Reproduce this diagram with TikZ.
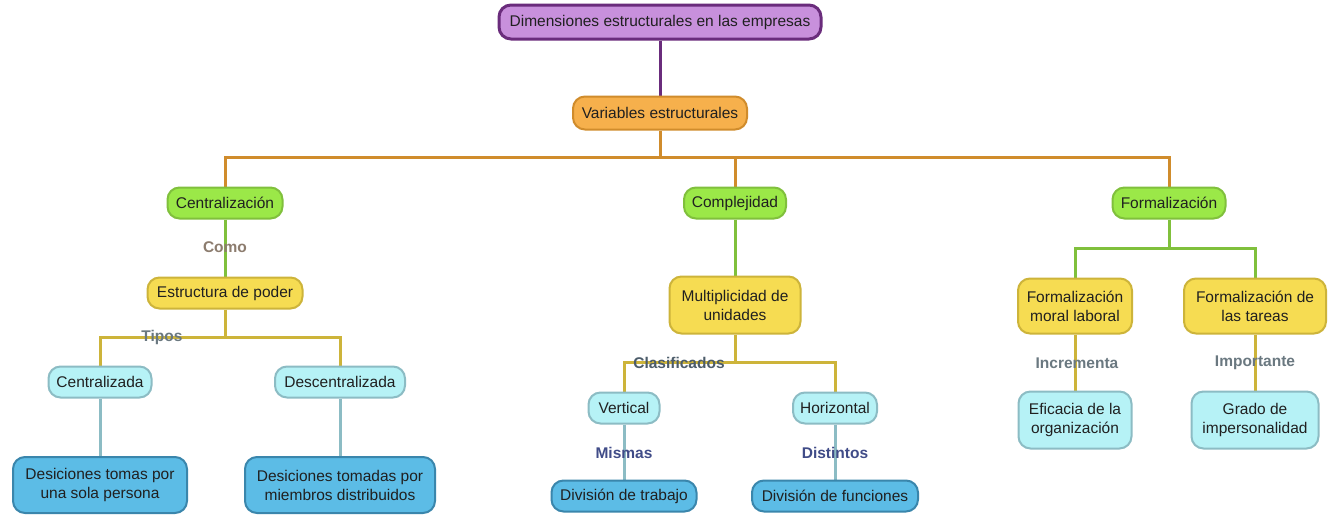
\documentclass[tikz,border=0pt]{standalone}
\usepackage{fontspec}
\setmainfont{Liberation Sans}
\usetikzlibrary{backgrounds}
\definecolor{purF}{HTML}{C890DC}
\definecolor{purD}{HTML}{6A2C7C}
\definecolor{oraF}{HTML}{F6B04C}
\definecolor{oraD}{HTML}{D08C2C}
\definecolor{grnF}{HTML}{9BE848}
\definecolor{grnD}{HTML}{80C03C}
\definecolor{yelF}{HTML}{F6DC52}
\definecolor{yelD}{HTML}{CDB43A}
\definecolor{cyaF}{HTML}{B6F2F6}
\definecolor{cyaD}{HTML}{8CBCC4}
\definecolor{bluF}{HTML}{5CBCE6}
\definecolor{bluD}{HTML}{3A86AC}
\definecolor{txt}{HTML}{202020}
\definecolor{lbComo}{HTML}{8C7C6E}
\definecolor{lbGray}{HTML}{6A7880}
\definecolor{lbDark}{HTML}{4C5C6A}
\definecolor{lbBlue}{HTML}{404C88}
\tikzset{
  box/.style={rounded corners=12pt, draw, line width=2pt, align=center,
    inner xsep=6pt, inner ysep=2pt, text=txt,
    font=\fontsize{15.5}{19}\selectfont},
  pbox/.style={box, fill=purF, draw=purD, line width=3pt},
  obox/.style={box, fill=oraF, draw=oraD},
  gbox/.style={box, fill=grnF, draw=grnD},
  ybox/.style={box, fill=yelF, draw=yelD},
  cbox/.style={box, fill=cyaF, draw=cyaD},
  bbox/.style={box, fill=bluF, draw=bluD},
  conn/.style={line width=3pt},
  lbl/.style={font=\fontsize{15.5}{17}\selectfont\bfseries, inner sep=1pt},
}
\begin{document}
\begin{tikzpicture}[x=1pt,y=-1pt]
\useasboundingbox (0,0) rectangle (1342,523);
% nodes
\node[pbox, minimum width=322, minimum height=34] (dim) at (660,22) {Dimensiones estructurales en las empresas};
\node[obox, minimum width=174, minimum height=33] (var) at (660,113) {Variables estructurales};
\node[gbox, minimum width=115, minimum height=31] (cent) at (225,203) {Centralización};
\node[gbox, minimum width=102, minimum height=31] (comp) at (735,203) {Complejidad};
\node[gbox, minimum width=113, minimum height=31] (form) at (1169,203) {Formalización};
\node[ybox, minimum width=155, minimum height=31] (estr) at (225,293) {Estructura de poder};
\node[ybox, minimum width=131, minimum height=57] (mult) at (735,305) {Multiplicidad de\\unidades};
\node[ybox, minimum width=114, minimum height=55] (fml) at (1075,306) {Formalización\\moral laboral};
\node[ybox, minimum width=142, minimum height=55] (fta) at (1255,306) {Formalización de\\las tareas};
\node[cbox, minimum width=103, minimum height=31] (czd) at (100,382) {Centralizada};
\node[cbox, minimum width=130, minimum height=31] (dczd) at (340,382) {Descentralizada};
\node[cbox, minimum width=71, minimum height=31] (vert) at (624,408) {Vertical};
\node[cbox, minimum width=84, minimum height=31] (horz) at (835,408) {Horizontal};
\node[bbox, minimum width=174, minimum height=56] (d1) at (100,485) {Desiciones tomas por\\una sola persona};
\node[bbox, minimum width=190, minimum height=56] (d2) at (340,485) {Desiciones tomadas por\\miembros distribuidos};
\node[bbox, minimum width=145, minimum height=31] (divt) at (624,496) {División de trabajo};
\node[bbox, minimum width=166, minimum height=31] (divf) at (835,496) {División de funciones};
\node[cbox, minimum width=113, minimum height=57] (efi) at (1075,420) {Eficacia de la\\organización};
\node[cbox, minimum width=127, minimum height=57] (gra) at (1255,420) {Grado de\\impersonalidad};
% connectors
\coordinate (b1) at (660,157);
\coordinate (b2) at (225,337);
\coordinate (b3) at (735,362);
\coordinate (b4) at (1169,248);
\begin{scope}[on background layer]
\fill[white] (0,0) rectangle (1342,523);
\draw[conn, purD] (dim) -- (var);
\draw[conn, oraD] (var.south) -- (var.south |- b1);
\draw[conn, oraD] (cent.north) |- (form.north |- b1) -- (form.north);
\draw[conn, oraD] (comp.north) -- (comp.north |- b1);
\draw[conn, grnD] (cent) -- (estr);
\draw[conn, grnD] (comp) -- (mult);
\draw[conn, grnD] (form.south) -- (form.south |- b4);
\draw[conn, grnD] (fml.north) |- (fta.north |- b4) -- (fta.north);
\draw[conn, yelD] (estr.south) -- (estr.south |- b2);
\draw[conn, yelD] (czd.north) |- (dczd.north |- b2) -- (dczd.north);
\draw[conn, yelD] (mult.south) -- (mult.south |- b3);
\draw[conn, yelD] (vert.north) |- (horz.north |- b3) -- (horz.north);
\draw[conn, yelD] (fml) -- (efi);
\draw[conn, yelD] (fta) -- (gra);
\draw[conn, cyaD] (czd) -- (d1);
\draw[conn, cyaD] (dczd) -- (d2);
\draw[conn, cyaD] (vert) -- (divt);
\draw[conn, cyaD] (horz) -- (divf);
\end{scope}
% labels
\node[lbl, text=lbComo] (lcomo) at (225,247) {Como};
\node[lbl, text=lbGray] (ltipos) at (162,337) {Tipos};
\node[lbl, text=lbDark] (lclas) at (679,363) {Clasificados};
\node[lbl, text=lbBlue] (lmis) at (624,453) {Mismas};
\node[lbl, text=lbBlue] (ldis) at (835,453) {Distintos};
\node[lbl, text=lbGray] (linc) at (1077,363) {Incrementa};
\node[lbl, text=lbGray] (limp) at (1255,363) {Importante};
\end{tikzpicture}
\end{document}
